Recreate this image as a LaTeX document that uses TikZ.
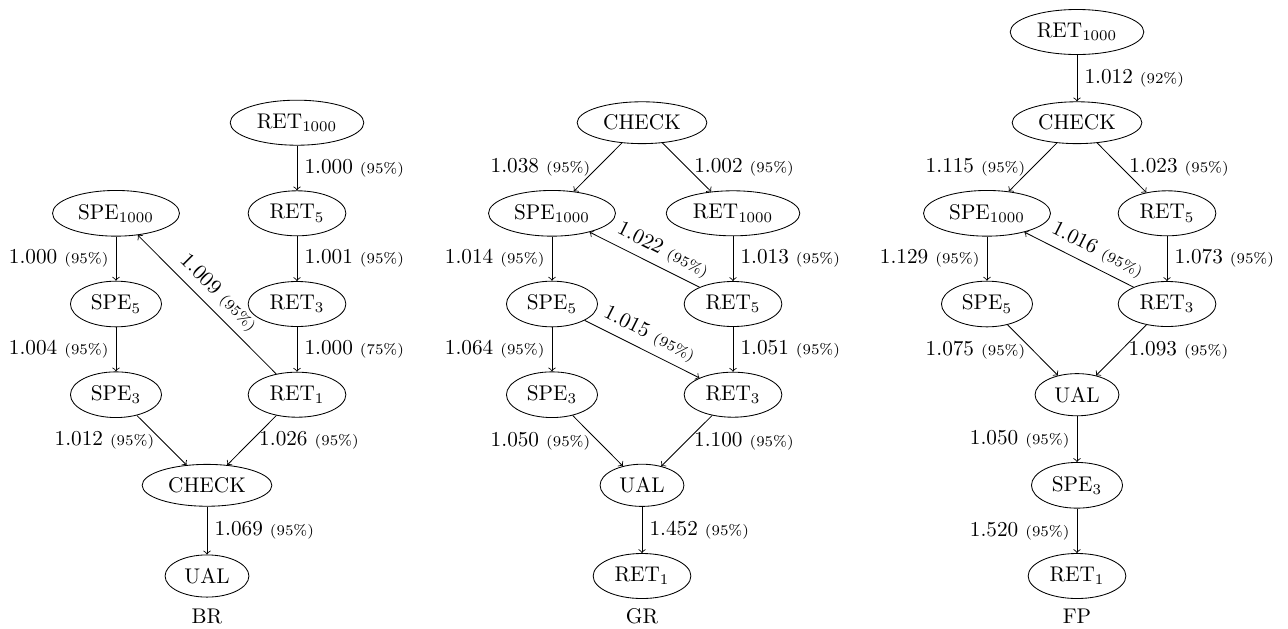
\documentclass[tikz,border=0pt]{standalone}
\usetikzlibrary{shapes.geometric}
\newcommand{\lbl}[2]{#1 {\scriptsize (#2\%)}}
\tikzset{
  ell/.style={draw, ellipse},
  arr/.style={->},
  gname/.style={inner sep=0pt},
  el/.style={midway, left},
  er/.style={midway, right},
  es/.style={midway, sloped, above}
}
\begin{document}
\begin{tikzpicture}[x=0.4710pt, y=-0.4710pt]
\useasboundingbox (0,0) rectangle (1288,628);
% ---------------- BR ----------------
\node[ell] (br-ret1000) at (297,122.7) {RET$_{1000}$};
\node[ell] (br-ret5)    at (297,213.3) {RET$_{5}$};
\node[ell] (br-ret3)    at (297,304)   {RET$_{3}$};
\node[ell] (br-ret1)    at (297,394.7) {RET$_{1}$};
\node[ell] (br-spe1000) at (116,213.3) {SPE$_{1000}$};
\node[ell] (br-spe5)    at (116,304)   {SPE$_{5}$};
\node[ell] (br-spe3)    at (116,394.7) {SPE$_{3}$};
\node[ell] (br-check)   at (207,485.3) {CHECK};
\node[ell] (br-ual)     at (207,576)   {UAL};
\node[gname] (br-name)  at (207,616)   {BR};
\draw[arr] (br-ret1000) -- node[er] {\lbl{1.000}{95}} (br-ret5);
\draw[arr] (br-ret5) -- node[er] {\lbl{1.001}{95}} (br-ret3);
\draw[arr] (br-ret3) -- node[er] {\lbl{1.000}{75}} (br-ret1);
\draw[arr] (br-spe1000) -- node[el] {\lbl{1.000}{95}} (br-spe5);
\draw[arr] (br-spe5) -- node[el] {\lbl{1.004}{95}} (br-spe3);
\draw[arr] (br-ret1) -- node[es] {\lbl{1.009}{95}} (br-spe1000);
\draw[arr] (br-spe3) -- node[el] {\lbl{1.012}{95}} (br-check);
\draw[arr] (br-ret1) -- node[er] {\lbl{1.026}{95}} (br-check);
\draw[arr] (br-check) -- node[er] {\lbl{1.069}{95}} (br-ual);
% ---------------- GR ----------------
\node[ell] (gr-check)   at (642,122.7) {CHECK};
\node[ell] (gr-spe1000) at (552,213.3) {SPE$_{1000}$};
\node[ell] (gr-ret1000) at (733,213.3) {RET$_{1000}$};
\node[ell] (gr-spe5)    at (552,304)   {SPE$_{5}$};
\node[ell] (gr-ret5)    at (733,304)   {RET$_{5}$};
\node[ell] (gr-spe3)    at (552,394.7) {SPE$_{3}$};
\node[ell] (gr-ret3)    at (733,394.7) {RET$_{3}$};
\node[ell] (gr-ual)     at (642,485.3) {UAL};
\node[ell] (gr-ret1)    at (642,576)   {RET$_{1}$};
\node[gname] (gr-name)  at (642,616)   {GR};
\draw[arr] (gr-check) -- node[el] {\lbl{1.038}{95}} (gr-spe1000);
\draw[arr] (gr-check) -- node[er] {\lbl{1.002}{95}} (gr-ret1000);
\draw[arr] (gr-spe1000) -- node[el] {\lbl{1.014}{95}} (gr-spe5);
\draw[arr] (gr-ret1000) -- node[er] {\lbl{1.013}{95}} (gr-ret5);
\draw[arr] (gr-ret5) -- node[es, pos=0.4] {\lbl{1.022}{95}} (gr-spe1000);
\draw[arr] (gr-spe5) -- node[el] {\lbl{1.064}{95}} (gr-spe3);
\draw[arr] (gr-spe5) -- node[es] {\lbl{1.015}{95}} (gr-ret3);
\draw[arr] (gr-ret5) -- node[er] {\lbl{1.051}{95}} (gr-ret3);
\draw[arr] (gr-spe3) -- node[el] {\lbl{1.050}{95}} (gr-ual);
\draw[arr] (gr-ret3) -- node[er] {\lbl{1.100}{95}} (gr-ual);
\draw[arr] (gr-ual) -- node[er] {\lbl{1.452}{95}} (gr-ret1);
% ---------------- FP ----------------
\node[ell] (fp-ret1000) at (1077,32)    {RET$_{1000}$};
\node[ell] (fp-check)   at (1077,122.7) {CHECK};
\node[ell] (fp-spe1000) at (987,213.3)  {SPE$_{1000}$};
\node[ell] (fp-ret5)    at (1167,213.3) {RET$_{5}$};
\node[ell] (fp-spe5)    at (987,304)    {SPE$_{5}$};
\node[ell] (fp-ret3)    at (1167,304)   {RET$_{3}$};
\node[ell] (fp-ual)     at (1077,394.7) {UAL};
\node[ell] (fp-spe3)    at (1077,485.3) {SPE$_{3}$};
\node[ell] (fp-ret1)    at (1077,576)   {RET$_{1}$};
\node[gname] (fp-name)  at (1077,616)   {FP};
\draw[arr] (fp-ret1000) -- node[er] {\lbl{1.012}{92}} (fp-check);
\draw[arr] (fp-check) -- node[el] {\lbl{1.115}{95}} (fp-spe1000);
\draw[arr] (fp-check) -- node[er] {\lbl{1.023}{95}} (fp-ret5);
\draw[arr] (fp-spe1000) -- node[el] {\lbl{1.129}{95}} (fp-spe5);
\draw[arr] (fp-ret5) -- node[er] {\lbl{1.073}{95}} (fp-ret3);
\draw[arr] (fp-ret3) -- node[es, pos=0.4] {\lbl{1.016}{95}} (fp-spe1000);
\draw[arr] (fp-spe5) -- node[el] {\lbl{1.075}{95}} (fp-ual);
\draw[arr] (fp-ret3) -- node[er] {\lbl{1.093}{95}} (fp-ual);
\draw[arr] (fp-ual) -- node[el] {\lbl{1.050}{95}} (fp-spe3);
\draw[arr] (fp-spe3) -- node[el] {\lbl{1.520}{95}} (fp-ret1);
\end{tikzpicture}
\end{document}
